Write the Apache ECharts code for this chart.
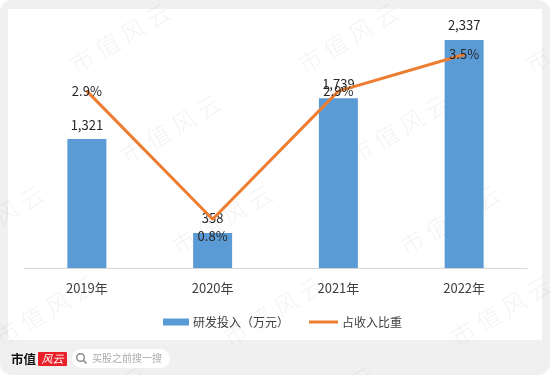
<!DOCTYPE html>
<html>
<head>
<meta charset="utf-8">
<script src="https://cdn.jsdelivr.net/npm/echarts@6/dist/echarts.min.js"></script>
<style>
html,body{margin:0;padding:0;background:#fff;}
#frame{position:absolute;left:0;top:0;width:550px;height:375px;background:#f0f0f0;border-radius:12px;overflow:hidden;}
#inner{position:absolute;left:8px;top:9px;width:534px;height:331px;background:#fff;}
#chart{position:absolute;left:0;top:0;width:550px;height:375px;}
</style>
</head>
<body>
<div id="frame"><div id="inner"></div></div>
<div id="chart"></div>
<script>
// ---- data ----
const categories = ['2019年', '2020年', '2021年', '2022年'];
const rdInvest = [1321, 358, 1739, 2337];          // 研发投入（万元）
const rdRatio = [2.9, 0.8, 2.9, 3.5];               // 占收入比重 (%)
const seriesNames = ['研发投入（万元）', '占收入比重'];

// ---- style config ----
const ratioLabelPos = ['inside', 'bottom', 'inside', 'inside'];
const FONT = "'Noto Sans CJK SC', 'Noto Sans', sans-serif";

function fmtThousands(v) {
  return String(v).replace(/\B(?=(\d{3})+(?!\d))/g, ',');
}

// watermark decoration
const watermarks = [];
for (let c = -1; c <= 3; c++) {
  for (let r = -1; r <= 4; r++) {
    const cx = 120 + c * 228 + r * 51;
    const cy = 38 + r * 91;
    if (cx < -80 || cx > 640 || cy < -40 || cy > 420) continue;
    watermarks.push({
      type: 'text',
      x: cx, y: cy,
      rotation: 30.7 * Math.PI / 180,
      z: -10,
      silent: true,
      style: {
        text: '市 值 风 云',
        fontSize: 24,
        fontFamily: FONT,
        fontWeight: 300,
        fill: 'rgba(0,0,0,0.05)',
        align: 'center',
        verticalAlign: 'middle'
      }
    });
  }
}

const chart = echarts.init(document.getElementById('chart'), null, {renderer: 'canvas'});
chart.setOption({
  backgroundColor: 'transparent',
  animation: false,
  textStyle: {fontFamily: FONT},
  grid: {left: 24, right: 23, top: 24, bottom: 107},
  legend: [
    {
      data: [seriesNames[0]],
      left: 158, top: 311,
      icon: 'rect',
      itemWidth: 26, itemHeight: 7, itemGap: 4,
      textStyle: {fontSize: 12, color: '#404040', fontFamily: FONT, padding: [0, 0, 0, -1]}
    },
    {
      data: [seriesNames[1]],
      left: 304, top: 311,
      icon: 'rect',
      itemWidth: 29, itemHeight: 3,
      textStyle: {fontSize: 12, color: '#404040', fontFamily: FONT, padding: [0, 0, 0, -1]}
    }
  ],
  xAxis: {
    type: 'category',
    data: categories,
    axisTick: {show: false},
    axisLine: {lineStyle: {color: '#d9d9d9', width: 1}},
    axisLabel: {color: '#404040', fontSize: 13, margin: 14, fontFamily: FONT}
  },
  yAxis: [
    {type: 'value', min: 0, max: 2500, show: false, splitLine: {show: false}},
    {type: 'value', min: 0, max: 4, show: false, splitLine: {show: false}}
  ],
  series: [
    {
      name: seriesNames[0],
      type: 'bar',
      data: rdInvest,
      barWidth: 39,
      itemStyle: {color: '#5B9BD5'},
      label: {
        show: true, position: 'top', distance: 8,
        color: '#262626', fontSize: 13, fontFamily: FONT,
        formatter: p => fmtThousands(p.value)
      },
      z: 2
    },
    {
      name: seriesNames[1],
      type: 'line',
      yAxisIndex: 1,
      data: rdRatio.map((v, i) => ({value: v, label: {position: ratioLabelPos[i]}})),
      symbol: 'circle',
      symbolSize: 2,
      itemStyle: {color: '#ED7D31'},
      lineStyle: {color: '#ED7D31', width: 3},
      label: {
        show: true, distance: 9,
        color: '#262626', fontSize: 13, fontFamily: FONT,
        formatter: p => p.value.toFixed(1) + '%'
      },
      z: 3
    }
  ],
  graphic: watermarks.concat([
    {
      type: 'text', x: 11, y: 359, z: 20, silent: true,
      style: {text: '市值', fontSize: 12.5, fontWeight: 'bold', fontFamily: FONT, fill: '#111', verticalAlign: 'middle'}
    },
    {
      type: 'rect', z: 20, silent: true,
      shape: {x: 38, y: 352, width: 29, height: 14, r: 1},
      style: {fill: '#e8202a'}
    },
    {
      type: 'text', x: 52.5, y: 359, z: 21, silent: true,
      style: {text: '风云', fontSize: 11, fontStyle: 'italic', fontFamily: FONT, fill: '#fff', align: 'center', verticalAlign: 'middle'}
    },
    {
      type: 'rect', z: 20, silent: true,
      shape: {x: 72, y: 349, width: 98, height: 19, r: 9.5},
      style: {fill: '#fff'}
    },
    {
      type: 'circle', z: 21, silent: true,
      shape: {cx: 80.5, cy: 357.5, r: 3.8},
      style: {fill: 'none', stroke: '#888', lineWidth: 1.4}
    },
    {
      type: 'line', z: 21, silent: true,
      shape: {x1: 83.3, y1: 360.3, x2: 86.5, y2: 363.5},
      style: {stroke: '#888', lineWidth: 1.6}
    },
    {
      type: 'text', x: 92, y: 358.5, z: 21, silent: true,
      style: {text: '买股之前搜一搜', fontSize: 10, fontFamily: FONT, fill: '#aaa', verticalAlign: 'middle'}
    }
  ])
});
</script>
</body>
</html>
